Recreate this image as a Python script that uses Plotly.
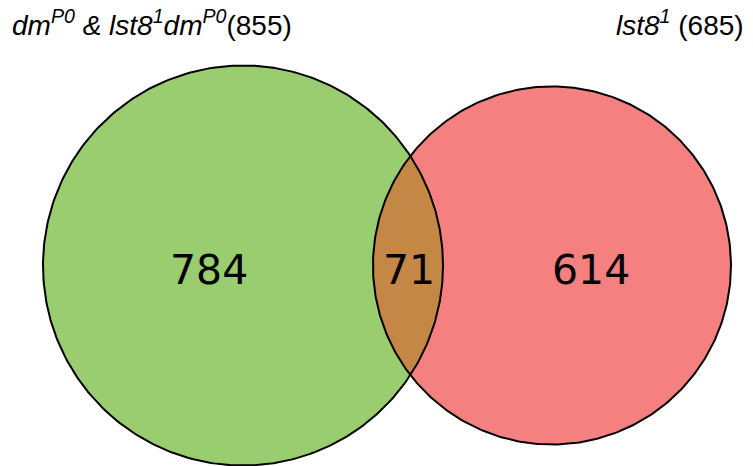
import numpy as np
import plotly.graph_objects as go

# ---- data ----
set_names = ["<i>dm<sup>P0</sup> & lst8<sup>1</sup>dm<sup>P0</sup></i>(855)", "<i>lst8<sup>1</sup></i> (685)"]
set_totals = [855, 685]
region_labels = ["784", "71", "614"]
region_values = [784, 71, 614]

W, H = 753, 466
OFF = 8  # page body margin
green = "rgb(153,205,111)"
red = "rgb(244,128,128)"
brown = "rgb(197,135,70)"

# ---- geometry from set sizes (area-proportional) ----
k = 200 / np.sqrt(set_totals[0])
r1 = k * np.sqrt(set_totals[0])
r2 = k * np.sqrt(set_totals[1])
target = np.pi * k**2 * region_values[1]

def lens_area(d):
    a1 = r1**2 * np.arccos((d**2 + r1**2 - r2**2) / (2 * d * r1))
    a2 = r2**2 * np.arccos((d**2 + r2**2 - r1**2) / (2 * d * r2))
    a3 = 0.5 * np.sqrt((-d + r1 + r2) * (d + r1 - r2) * (d - r1 + r2) * (d + r1 + r2))
    return a1 + a2 - a3

lo, hi = abs(r1 - r2) + 1e-6, r1 + r2 - 1e-6
for _ in range(100):
    mid = (lo + hi) / 2
    if lens_area(mid) > target:
        lo = mid
    else:
        hi = mid
d = (lo + hi) / 2

cy = 265.5
c1x = 243
c2x = c1x + d

def circle_pts(cx, cy, r, n=400):
    t = np.linspace(0, 2 * np.pi, n)
    return cx + r * np.cos(t), cy + r * np.sin(t)

# lens
a = (d**2 + r1**2 - r2**2) / (2 * d)
h = np.sqrt(r1**2 - a**2)
th1 = np.arctan2(h, a)
th2 = np.arctan2(h, -(d - a))
t1 = np.linspace(-th1, th1, 200)
lx1 = c1x + r1 * np.cos(t1); ly1 = cy + r1 * np.sin(t1)
t2 = np.linspace(th2, 2 * np.pi - th2, 200)
lx2 = c2x + r2 * np.cos(t2); ly2 = cy + r2 * np.sin(t2)
lens_x = np.concatenate([lx1, lx2]); lens_y = np.concatenate([ly1, ly2])

fig = go.Figure()
for (cx, r, col) in [(c1x, r1, green), (c2x, r2, red)]:
    x, y = circle_pts(cx, cy, r)
    fig.add_trace(go.Scatter(x=x, y=y, fill="toself", fillcolor=col, mode="lines",
                             line=dict(width=0), hoverinfo="skip", showlegend=False))
fig.add_trace(go.Scatter(x=lens_x, y=lens_y, fill="toself", fillcolor=brown, mode="lines",
                         line=dict(width=0), hoverinfo="skip", showlegend=False))
for (cx, r) in [(c1x, r1), (c2x, r2)]:
    x, y = circle_pts(cx, cy, r)
    fig.add_trace(go.Scatter(x=x, y=y, mode="lines", line=dict(color="black", width=2),
                             hoverinfo="skip", showlegend=False))

left_lens = c2x - r2
right_lens = c1x + r1
pos = [((c1x - r1) + left_lens) / 2 + 1, (left_lens + right_lens) / 2 + 1, (right_lens + c2x + r2) / 2 + 4]
for lab, px in zip(region_labels, pos):
    fig.add_annotation(x=px, y=cy + 4, text=lab, showarrow=False,
                       font=dict(family="DejaVu Sans", size=41, color="black"))

fig.add_annotation(x=10, y=43, text=set_names[0], showarrow=False, xanchor="left", yanchor="bottom",
                   font=dict(family="Liberation Sans", size=28, color="black"))
fig.add_annotation(x=746, y=43, text=set_names[1], showarrow=False, xanchor="right", yanchor="bottom",
                   font=dict(family="Liberation Sans", size=28, color="black"))

fig.update_layout(width=W - OFF, height=H - OFF, margin=dict(l=0, r=0, t=0, b=0),
                  plot_bgcolor="white", paper_bgcolor="white",
                  xaxis=dict(range=[OFF, W], visible=False, fixedrange=True),
                  yaxis=dict(range=[H, OFF], visible=False, fixedrange=True))
fig.write_html("out.html")
